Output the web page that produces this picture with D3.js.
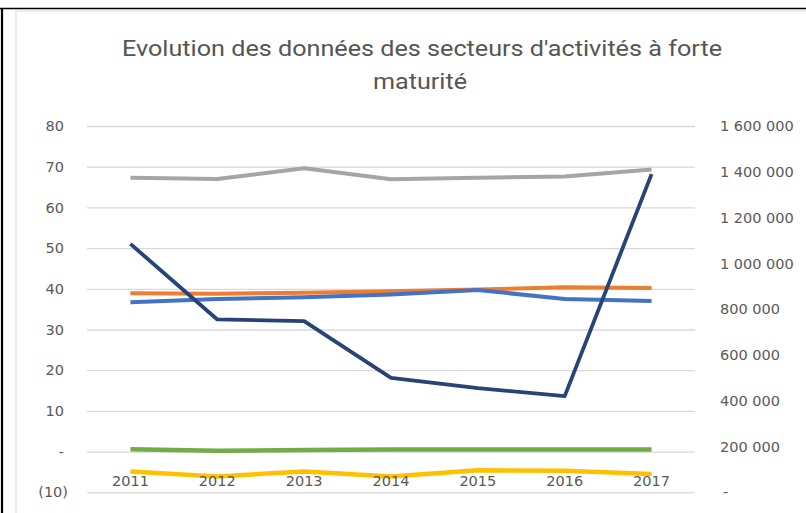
<!DOCTYPE html>
<html>
<head>
<meta charset="utf-8">
<script src="https://cdn.jsdelivr.net/npm/d3@7"></script>
<style>
  html, body { margin: 0; padding: 0; background: #fff; }
  svg { display: block; }
</style>
</head>
<body>
<svg id="chart" width="806" height="513"></svg>
<script>
// Categories (years) and axis ticks
const years = ["2011", "2012", "2013", "2014", "2015", "2016", "2017"];
const leftTicks = [-10, 0, 10, 20, 30, 40, 50, 60, 70, 80];
const rightTicks = [0, 200000, 400000, 600000, 800000, 1000000, 1200000, 1400000, 1600000];

// Series on the primary (left) axis
const serieGris = [67.3, 67.0, 69.6, 66.9, 67.3, 67.6, 69.3];
const serieOrange = [38.9, 38.8, 39.0, 39.4, 39.8, 40.4, 40.2];
const serieBleu = [36.7, 37.5, 37.9, 38.6, 39.7, 37.5, 37.0];
const serieVerte = [0.6, 0.2, 0.4, 0.5, 0.5, 0.5, 0.5];
const serieJaune = [-4.9, -6.1, -4.9, -6.1, -4.6, -4.7, -5.5];

// Series on the secondary (right) axis
const serieMarine = [1085000, 755000, 748000, 500000, 455000, 420000, 1390000];

const titleLines = ["Evolution des données des secteurs d'activités à forte", "maturité"];

const svg = d3.select("#chart");
const plot = { left: 87, right: 695, top: 126, bottom: 492.3 };
const textColor = "#595959";
const axisFont = "'DejaVu Sans', sans-serif";

const x = d3.scalePoint().domain(years).range([plot.left, plot.right]).padding(0.5);
const yLeft = d3.scaleLinear().domain([-10, 80]).range([plot.bottom, plot.top]);
const yRight = d3.scaleLinear().domain([0, 1600000]).range([plot.bottom, plot.top]);

// Page frame
svg.append("line").attr("x1", 0).attr("x2", 806).attr("y1", 8.5).attr("y2", 8.5)
  .attr("stroke", "#000").attr("stroke-width", 1.6);
svg.append("line").attr("x1", 2).attr("x2", 2).attr("y1", 8).attr("y2", 513)
  .attr("stroke", "#000").attr("stroke-width", 2.2);
// Faint chart-area edge
svg.append("path").attr("d", "M16,513 V11 H806")
  .attr("fill", "none").attr("stroke", "#ececec").attr("stroke-width", 2);

// Title
const title = svg.append("g").attr("fill", "#555555")
  .style("font-family", "'Liberation Sans Narrow', Roboto, sans-serif").style("font-size", "22.5px");
title.append("text").attr("x", 422).attr("y", 56).attr("text-anchor", "middle")
  .attr("textLength", 600).attr("lengthAdjust", "spacingAndGlyphs").text(titleLines[0]);
title.append("text").attr("x", 420).attr("y", 89).attr("text-anchor", "middle")
  .attr("textLength", 94).attr("lengthAdjust", "spacingAndGlyphs").text(titleLines[1]);

// Horizontal gridlines
const grid = svg.append("g").attr("transform", `translate(${plot.left},0)`)
  .call(d3.axisLeft(yLeft).tickValues(leftTicks).tickSize(-(plot.right - plot.left)).tickFormat(""));
grid.select(".domain").remove();
grid.selectAll("line").attr("stroke", "#d9d9d9").attr("stroke-width", 1.3);

// Left axis labels (accounting style: zero as "-", negatives in parentheses)
const fmtLeft = v => v === 0 ? "-" : v < 0 ? `(${Math.abs(v)})` : String(v);
const axL = svg.append("g").attr("transform", "translate(64,0)")
  .call(d3.axisLeft(yLeft).tickValues(leftTicks).tickSize(0).tickPadding(0).tickFormat(fmtLeft));
axL.select(".domain").remove();
axL.selectAll("text").attr("fill", textColor).style("font-family", axisFont).style("font-size", "14.5px")
  .attr("dx", d => d < 0 ? 4 : 0);

// Right axis labels
const fmtRight = v => v === 0 ? "-" : d3.format(",")(v).replace(/,/g, " ");
const axR = svg.append("g").attr("transform", "translate(720,0)")
  .call(d3.axisRight(yRight).tickValues(rightTicks).tickSize(0).tickPadding(0).tickFormat(fmtRight));
axR.select(".domain").remove();
axR.selectAll("text").attr("fill", textColor).style("font-family", axisFont).style("font-size", "14.5px")
  .attr("dx", d => d === 0 ? 3 : 0);

// Lines
const series = [
  { values: serieGris, scale: yLeft, color: "#a5a5a5", width: 4 },
  { values: serieOrange, scale: yLeft, color: "#ed7d31", width: 4 },
  { values: serieBleu, scale: yLeft, color: "#4472c4", width: 4 },
  { values: serieVerte, scale: yLeft, color: "#70ad47", width: 4.5 },
  { values: serieJaune, scale: yLeft, color: "#ffc000", width: 4.5 },
  { values: serieMarine, scale: yRight, color: "#264478", width: 3.8 }
];
const lines = svg.append("g");
series.forEach(s => {
  const gen = d3.line().x((d, i) => x(years[i])).y(d => s.scale(d));
  lines.append("path").attr("d", gen(s.values))
    .attr("fill", "none").attr("stroke", s.color).attr("stroke-width", s.width)
    .attr("stroke-linejoin", "round").attr("stroke-linecap", "butt");
});

// Category labels
svg.append("g").selectAll("text").data(years).join("text")
  .attr("x", d => x(d)).attr("y", 486).attr("text-anchor", "middle")
  .attr("fill", textColor).style("font-family", axisFont).style("font-size", "14.5px")
  .text(d => d);
</script>
</body>
</html>
